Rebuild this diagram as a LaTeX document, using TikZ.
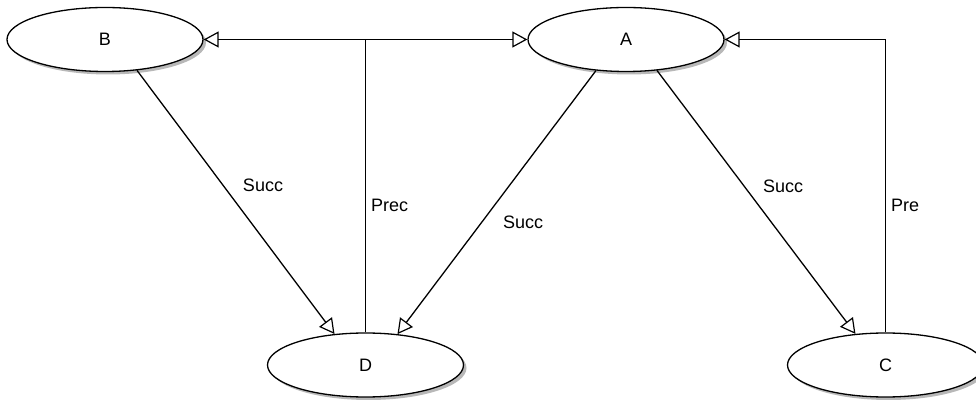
\documentclass[tikz,border=0pt]{standalone}
\usepackage{fontspec}
\setmainfont{Liberation Sans}
\usetikzlibrary{shapes.geometric,arrows.meta,shadows}

\tikzset{
  state/.style={ellipse, draw=black, line width=1.3pt, fill=white,
    minimum width=196pt, minimum height=64pt, inner sep=0pt,
    font=\fontsize{18}{20}\selectfont,
    drop shadow={shadow xshift=3pt, shadow yshift=-3pt, fill=black, opacity=0.28}},
  link/.style={draw=black, line width=1.3pt,
    -{Triangle[open, length=15pt, width=16pt, line width=1.2pt]}},
  tag/.style={font=\fontsize{18}{20}\selectfont, inner sep=0pt}
}

\begin{document}
\begin{tikzpicture}[x=1pt, y=1pt]
  \useasboundingbox (0,0) rectangle (976,401);

  % states
  \node[state] (B) at (105,361.5) {B};
  \node[state] (A) at (626,361.5) {A};
  \node[state] (D) at (365.5,36) {D};
  \node[state] (C) at (885.5,36) {C};

  % successor links
  \draw[link] (B.-44) -- (D.135);
  \draw[link] (A.226) -- (D.44);
  \draw[link] (A.-45) -- (C.134);

  % predecessor links
  \draw[link] (D.north) |- (B.east);
  \draw[link] (D.north) |- (A.west);
  \draw[link] (C.north) |- (A.east);

  % labels
  \node[tag] (sBD) at (263,216) {Succ};
  \node[tag, anchor=west] (pD) at (371,196) {Prec};
  \node[tag] (sAD) at (523,179) {Succ};
  \node[tag] (sAC) at (783,215) {Succ};
  \node[tag, anchor=west] (pC) at (891,196) {Pre};
\end{tikzpicture}
\end{document}
